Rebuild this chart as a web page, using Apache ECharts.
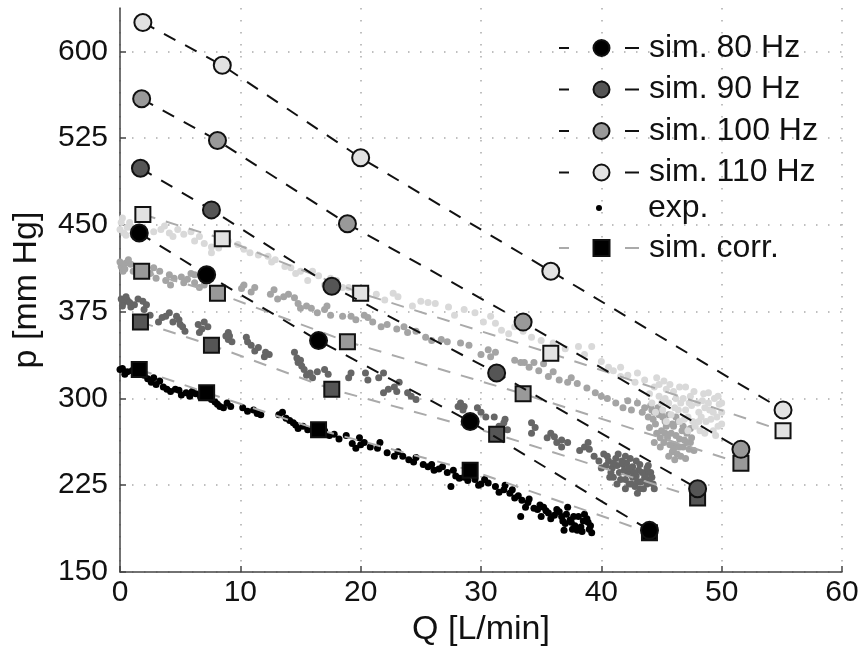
<!DOCTYPE html>
<html>
<head>
<meta charset="utf-8">
<script src="https://cdn.jsdelivr.net/npm/echarts@6/dist/echarts.min.js"></script>
<style>html,body{margin:0;padding:0;background:#fff}#c{width:863px;height:655px}</style>
</head>
<body>
<div id="c"></div>
<script>
// ---- data ----
const xTicks = [0, 10, 20, 30, 40, 50, 60];
const yTicks = [150, 225, 300, 375, 450, 525, 600];

const sim80Q = [1.6, 7.2, 16.5, 29.1, 44.0];
const sim80P = [443, 407, 350, 280, 186];
const sim90Q = [1.7, 7.6, 17.6, 31.3, 48.0];
const sim90P = [499, 463, 397, 322, 222];
const sim100Q = [1.8, 8.1, 18.9, 33.5, 51.6];
const sim100P = [559, 523, 451, 366, 256];
const sim110Q = [1.9, 8.5, 20.0, 35.8, 55.1];
const sim110P = [625, 588, 508, 410, 290];

const corr80P = [325, 305, 273, 238, 184];
const corr90P = [366, 346, 308, 269, 214];
const corr100P = [410, 391, 349, 304, 244];
const corr110P = [459, 438, 391, 339, 272];

const exp80 = [[0.2,326],[0.6,323],[1.0,324],[1.3,327],[2.0,320],[2.6,314],[3.0,312],[3.3,315],[4.2,306],[4.6,308],[5.1,303],[5.5,305],[6.3,304],[6.7,301],[7.2,303],[7.6,299],[8.1,295],[8.6,292],[8.9,296],[10.2,292],[11.1,290],[11.4,287],[13.5,288],[13.8,283],[14.4,279],[14.8,274],[15.2,276],[16.1,271],[17.0,272],[17.8,269],[18.8,268],[19.6,257],[19.9,266],[20.0,260],[21.4,257],[21.6,262],[22.8,250],[23.1,254],[24.4,245],[24.6,249],[25.6,241],[25.9,243],[26.5,239],[27.2,236],[27.5,224],[27.7,238],[28.2,231],[28.6,232],[29.5,230],[30.0,226],[30.6,227],[31.2,224],[31.9,221],[32.4,218],[32.8,214],[33.3,198],[33.4,212],[33.9,210],[34.4,205],[34.7,204],[35.2,206],[35.6,201],[36.1,199],[36.3,204],[36.7,198],[36.9,186],[37.2,206],[37.4,195],[37.5,193],[37.8,190],[38.1,198],[38.3,189],[38.5,194],[38.9,193],[39.0,187],[39.2,184],[38.6,200],[37.0,192],[35.0,198],
  [0.0,325],[0.4,321],[1.7,322],[2.3,317],[2.8,318],[3.6,310],[3.9,308],[4.9,307],[5.8,302],[6.0,306],[7.0,305],[7.9,297],[8.3,293],[9.2,293],[10.6,289],[11.7,286],[13.2,286],[14.1,281],[14.6,277],[15.6,273],[16.5,270],[17.4,268],[18.2,265],[19.3,261],[20.3,262],[20.8,258],[22.2,253],[23.5,250],[24.0,247],[25.2,243],[26.1,238],[26.8,241],[27.9,233],[28.9,229],[29.2,234],[29.8,225],[30.3,230],[31.5,219],[32.0,225],[32.6,221],[33.1,216],[33.7,206],[34.0,213],[34.9,208],[35.4,203],[35.8,196],[36.5,202],[36.8,194],[37.1,200],[37.7,198],[38.0,186],[38.8,196],[39.1,190],[38.4,185],[37.6,187]];
const exp90 = [[0.1,386],[0.3,383],[0.6,385],[0.9,379],[1.2,381],[1.9,384],[2.0,377],[2.5,372],[3.2,366],[4.1,374],[4.4,366],[4.9,368],[5.2,362],[5.4,358],[6.5,364],[6.6,357],[7.3,362],[9.0,357],[9.0,351],[9.1,354],[10.5,353],[10.9,346],[11.5,344],[12.1,340],[12.4,338],[14.5,340],[14.8,331],[15.1,328],[15.3,325],[15.8,322],[17.0,325],[19.2,322],[20.4,322],[20.6,316],[21.9,322],[21.9,305],[22.8,310],[23.2,314],[23.9,305],[24.6,299],[28.1,293],[28.3,296],[28.6,293],[30.0,288],[31.1,284],[31.9,279],[32.2,273],[34.2,279],[34.2,270],[35.8,270],[36.1,267],[36.7,264],[36.7,258],[38.6,258],[38.9,262],[39.4,250],[40.2,252],[40.6,246],[40.9,240],[41.2,248],[41.5,236],[41.8,243],[42.0,230],[42.2,236],[42.5,226],[42.6,241],[42.9,233],[43.1,238],[43.3,228],[43.5,222],[43.7,235],[44.0,230],[44.3,226],[41.0,232],[43.9,242],[42.4,248],
  [0.2,380],[0.5,388],[0.8,383],[1.5,386],[2.2,381],[3.5,370],[3.8,371],[4.7,371],[5.0,364],[6.8,360],[7.0,366],[8.8,354],[9.3,349],[10.6,349],[11.2,341],[12.0,336],[14.7,335],[15.0,333],[15.5,320],[16.0,318],[16.4,323],[17.3,321],[19.0,318],[21.5,318],[22.3,308],[23.0,306],[24.2,302],[28.5,290],[29.7,292],[30.4,284],[31.5,276],[32.0,282],[34.5,275],[35.5,266],[36.3,262],[37.2,262],[38.2,255],[39.0,256],[39.8,246],[40.4,242],[40.8,236],[41.3,242],[41.6,230],[42.1,244],[42.3,226],[42.7,236],[43.0,228],[43.2,243],[43.6,232],[43.8,226],[44.1,236],[40.0,240],[41.9,238],[42.8,224],
  [40.5,250],[41.0,244],[41.4,252],[41.7,246],[42.0,250],[42.3,240],[42.6,232],[42.9,246],[43.2,222],[43.4,236],[43.8,240],[44.2,232],[44.4,222],[40.7,232],[41.3,226],[42.0,222],[43.0,218]];
const exp100 = [[0.1,414],[0.25,410],[0.5,417],[0.9,416],[1.4,412],[2.8,413],[3.0,404],[4.1,407],[4.2,398],[5.1,405],[5.6,403],[6.2,407],[6.2,400],[7.0,398],[10.3,398],[10.9,392],[12.8,394],[13.6,388],[14.5,387],[15.0,378],[15.9,378],[17.0,377],[17.5,372],[19.2,371],[20.3,372],[20.6,370],[21.7,362],[23.6,362],[23.9,357],[25.4,353],[26.7,351],[28.3,348],[30.6,342],[30.8,336],[33.3,331],[33.6,331],[34.4,331],[35.6,319],[36.0,323],[37.2,314],[37.5,318],[39.5,305],[40.5,300],[41.2,296],[42.5,290],[43.0,296],[43.9,284],[44.2,290],[44.5,278],[44.8,286],[45.0,272],[45.3,280],[45.5,266],[45.8,270],[46.0,276],[46.1,260],[46.3,252],[46.5,265],[46.8,258],[47.1,270],[47.4,262],[47.7,255],[46.1,247],[45.2,262],[44.0,275],
  [0.0,418],[0.4,412],[0.7,420],[1.1,410],[2.5,408],[3.3,410],[3.8,402],[4.5,404],[5.3,400],[5.9,408],[6.6,396],[10.1,395],[11.2,396],[12.5,390],[13.1,386],[14.0,390],[14.8,382],[15.5,380],[16.4,374],[17.2,380],[18.5,371],[19.6,368],[21.0,366],[22.2,364],[23.0,360],[24.6,358],[25.9,350],[27.2,349],[29.0,346],[30.0,338],[31.2,340],[32.8,333],[34.0,327],[34.8,324],[35.2,330],[36.5,316],[38.0,313],[38.8,309],[40.0,302],[41.8,292],[42.2,298],[43.4,288],[43.6,292],[44.3,282],[44.6,270],[45.1,284],[45.4,276],[45.7,260],[46.2,268],[46.4,280],[46.6,250],[46.9,264],[47.3,256],[47.5,266],[45.9,254],[44.9,266],[46.7,272],[47.0,248],
  [44.1,294],[44.4,288],[44.7,292],[45.0,288],[45.3,270],[45.6,286],[45.9,278],[46.2,284],[46.5,258],[46.8,276],[47.1,262],[47.4,274],[45.6,250],[46.0,256],[44.4,262],[44.9,258]];
const exp110 = [[0.1,452],[0.33,443],[0.6,448],[0.9,448],[1.2,445],[3.4,446],[4.1,443],[4.8,446],[5.9,444],[6.6,440],[7.6,431],[7.6,426],[9.8,433],[10.3,429],[12.3,423],[12.6,418],[14.2,413],[15.0,410],[16.5,406],[17.5,404],[18.5,396],[19.5,392],[22.7,391],[23.1,388],[25.0,384],[25.6,383],[27.3,379],[28.6,377],[30.8,371],[31.7,359],[32.8,362],[34.2,353],[38.1,345],[39.2,345],[40.6,327],[41.6,319],[41.6,327],[43.0,322],[44.4,310],[44.8,302],[45.2,315],[45.6,296],[46.0,306],[46.4,290],[46.8,300],[47.2,284],[47.5,294],[47.8,276],[48.1,288],[48.4,298],[48.7,280],[49.0,290],[49.3,272],[49.6,284],[50.0,278],[48.9,305],[47.0,310],[49.8,295],
  [0.0,446],[0.2,456],[0.5,441],[0.8,452],[1.5,448],[2.8,444],[3.7,449],[4.4,440],[5.3,442],[6.2,436],[7.0,434],[8.2,430],[9.0,436],[10.8,426],[11.5,424],[12.9,420],[13.7,414],[14.6,408],[15.6,402],[16.0,410],[17.0,398],[18.0,402],[19.0,396],[20.5,394],[21.3,390],[22.0,385],[24.3,380],[26.2,382],[27.8,372],[29.5,374],[30.2,366],[31.2,365],[32.3,356],[33.5,358],[35.0,350],[36.0,348],[37.0,343],[38.6,338],[40.0,332],[41.0,324],[42.2,320],[42.8,314],[43.6,316],[44.0,304],[44.6,318],[45.0,296],[45.4,308],[45.8,286],[46.2,300],[46.6,296],[47.0,290],[47.4,302],[47.6,280],[48.0,296],[48.3,284],[48.6,292],[49.1,282],[49.4,300],[49.7,276],[50.0,288],[48.2,272],[46.5,280],[45.1,290],
  [44.2,296],[44.5,288],[44.8,312],[45.3,300],[45.7,312],[46.1,292],[46.5,310],[46.9,282],[47.3,296],[47.7,306],[48.1,280],[48.5,304],[48.9,296],[49.3,288],[49.7,302],[50.0,296],[47.2,272],[48.6,270],[49.5,268],[45.4,280]];

const colors = ['#000000', '#555555', '#999999', '#e2e2e2'];
const expColors = ['#000000', '#666666', '#a4a4a4', '#d9d9d9'];
const simNames = ['sim. 80 Hz', 'sim. 90 Hz', 'sim. 100 Hz', 'sim. 110 Hz'];

const simQ = [sim80Q, sim90Q, sim100Q, sim110Q];
const simP = [sim80P, sim90P, sim100P, sim110P];
const corrP = [corr80P, corr90P, corr100P, corr110P];
const exps = [exp80, exp90, exp100, exp110];

const zip = (a, b) => a.map((v, i) => [v, b[i]]);
const FONT = '"Liberation Sans", Arial, sans-serif';

const series = [];
exps.forEach((d, i) => {
  series.push({
    name: 'exp.', type: 'scatter', data: d, symbol: 'circle', symbolSize: 7,
    itemStyle: { color: expColors[i], opacity: 1 }, z: 1, silent: true
  });
});
corrP.forEach((p, i) => {
  series.push({
    name: 'sim. corr.', type: 'line', data: zip(simQ[i], p), symbol: 'rect', symbolSize: 15,
    lineStyle: { color: '#aaaaaa', width: 2, type: [13, 11] },
    itemStyle: { color: colors[i], borderColor: '#111', borderWidth: 2 }, z: 3
  });
});
simP.forEach((p, i) => {
  series.push({
    name: simNames[i], type: 'line', data: zip(simQ[i], p), symbol: 'circle', symbolSize: 17,
    lineStyle: { color: '#111', width: 2, type: [13, 11] },
    itemStyle: { color: colors[i], borderColor: '#111', borderWidth: 2 }, z: 4
  });
});

const legendCommon = {
  orient: 'vertical', left: 553, itemWidth: 85, itemHeight: 20, itemGap: 9.5,
  textStyle: { fontFamily: FONT, fontSize: 32, color: '#111', lineHeight: 30 },
  lineStyle: { type: [10, 56, 14, 100], width: 2 }, selectedMode: false
};

const chart = echarts.init(document.getElementById('c'), null, { renderer: 'canvas' });
chart.setOption({
  animation: false,
  backgroundColor: '#fff',
  grid: { left: 120, right: 21, top: 8, bottom: 83, containLabel: false },
  xAxis: {
    type: 'value', min: xTicks[0], max: xTicks[xTicks.length - 1], interval: 10,
    name: 'Q [L/min]', nameLocation: 'middle', nameGap: 39,
    nameTextStyle: { fontFamily: FONT, fontSize: 34, color: '#111' },
    axisLine: { show: true, lineStyle: { color: '#444', width: 1.5 } },
    axisTick: { show: true, inside: true, length: 6, lineStyle: { color: '#444', width: 1.5 } },
    axisLabel: { fontFamily: FONT, fontSize: 30, color: '#111', margin: 6 },
    splitLine: { show: true, lineStyle: { color: '#aaa', width: 1.5, type: [1.5, 10.5] } }
  },
  yAxis: {
    type: 'value', min: yTicks[0], max: 637.5, interval: 75,
    name: 'p [mm Hg]', nameLocation: 'middle', nameGap: 76, nameRotate: 90,
    nameTextStyle: { fontFamily: FONT, fontSize: 34, color: '#111' },
    axisLine: { show: true, lineStyle: { color: '#444', width: 1.5 } },
    axisTick: { show: true, inside: true, length: 6, lineStyle: { color: '#444', width: 1.5 } },
    axisLabel: { fontFamily: FONT, fontSize: 30, color: '#111', margin: 12, showMaxLabel: false,
      formatter: v => (yTicks.indexOf(v) >= 0 ? String(v) : '') },
    splitLine: { show: true, showMaxLine: false, lineStyle: { color: '#aaa', width: 1.5, type: [1.5, 10.5] } }
  },
  legend: [
    Object.assign({}, legendCommon, { top: 27, data: simNames }),
    Object.assign({}, legendCommon, { top: 187, left: 591, itemWidth: 6, itemHeight: 6,
      textStyle: Object.assign({}, legendCommon.textStyle, { padding: [0, 0, 0, 41] }),
      data: [{ name: 'exp.', icon: 'circle' }] }),
    Object.assign({}, legendCommon, { top: 227, data: ['sim. corr.'] })
  ],
  series: series
});
</script>
</body>
</html>
